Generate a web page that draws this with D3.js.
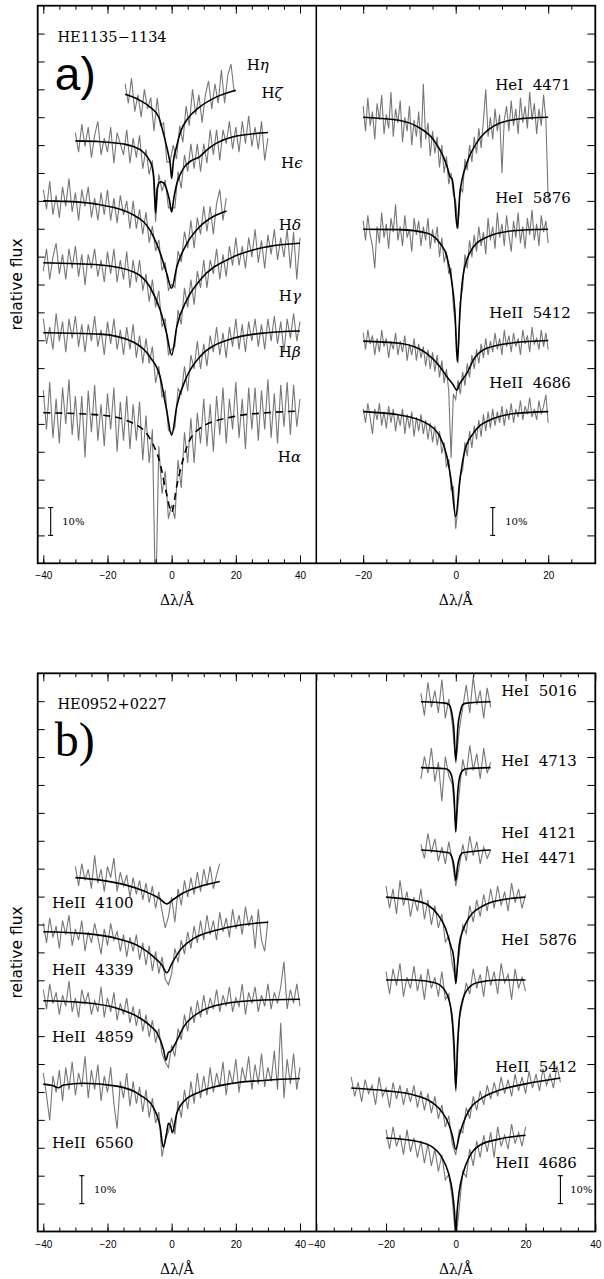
<!DOCTYPE html>
<html>
<head>
<meta charset="utf-8">
<script src="https://cdn.jsdelivr.net/npm/d3@7"></script>
<title>HE1135-1134 / HE0952+0227 line fits</title>
<style>
html, body {
	margin: 0;
	padding: 0;
	background: #fff;
}
svg {
	display: block;
}
.obs {
	fill: none;
	stroke: #777;
	stroke-width: 1.1;
}
.fit {
	fill: none;
	stroke: #000;
	stroke-width: 1.6;
}
.lbl {
	font-family: 'DejaVu Serif', serif;
	font-size: 15px;
}
</style>
</head>
<body>
<svg id="chart" width="604" height="1279"></svg>
<script>
// observed spectra: relative flux in %, one value per step (Angstrom) from x0
// panel a, left (Balmer lines, HE1135-1134), step 1
var aHetaObs = [103,96,105,93,99,91,101,94,98,86,98,88,89,75,75,81,76,88,82,95,88,101,92,99,89,99,104,94,103,96,108,96,106,110,100];
var aHzetaObs = [103,96,106,98,105,94,102,107,95,101,96,105,92,103,99,95,104,92,101,94,102,90,97,88,93,71,88,82,86,76,76,76,89,83,95,89,99,90,99,89,99,92,104,95,104,93,104,99,107,97,105,96,107,99,109,98,105,97,107,93,101];
var aHepsObs = [104,97,107,95,102,94,105,98,108,96,103,93,104,98,105,94,101,93,103,95,104,93,101,92,102,95,100,90,100,90,97,88,96,85,91,82,86,75,78,68,70,69,82,78,89,83,93,83,94,88,98,89,98,88,99,104,93,101];
var aHdeltaObs = [97,105,94,102,107,96,103,94,105,98,106,95,103,92,103,98,105,95,101,93,104,96,105,93,101,94,104,91,101,93,101,90,96,86,94,84,90,77,80,67,69,70,83,78,91,84,94,85,97,91,101,91,101,96,105,94,103,95,106,99,109,99,106,98,109,102,112,100,108,98,110,103,112,101,109,102,112,98,111,94,109];
var aHgammaObs = [105,96,102,94,107,97,104,93,105,98,106,95,103,93,103,97,106,95,101,92,104,96,105,94,101,92,102,94,103,91,99,89,98,89,95,82,88,77,79,65,64,66,80,78,88,79,92,87,97,87,96,88,99,93,102,92,100,91,102,95,105,94,103,93,104,97,105,95,103,94,105,97,106,96,104,93,105,98,107,97,104];
var aHalphaObs = [108,94,111,91,105,89,109,96,112,92,106,90,106,84,108,93,110,90,103,88,107,94,109,86,104,90,106,87,103,90,104,83,99,82,94,30,88,71,79,62,67,62,83,73,93,82,98,82,100,89,105,88,103,86,106,92,109,89,105,94,111,91,105,87,109,94,109,90,108,94,112,91,107,89,110,95,111,92,110,95,105];
// panel a, right (He lines), step 0.5
var aHeI4471Obs = [104,95,107,97,102,92,105,99,108,94,101,96,109,93,103,98,106,91,100,95,104,90,99,93,102,89,112,92,98,86,95,87,93,82,90,80,86,76,80,72,70,60,75,73,85,81,90,84,93,87,96,89,99,110,93,100,92,103,95,101,80,99,104,95,106,97,103,94,107,98,104,96,109,99,105,94,103,97,108,99,70];
var aHeI5876Obs = [103,96,105,98,94,86,101,95,106,97,102,93,104,99,109,96,101,94,105,97,100,92,104,98,103,94,101,96,104,93,100,95,101,90,97,88,92,84,86,72,65,52,74,79,91,86,96,90,98,92,101,94,99,91,104,96,101,93,106,97,102,94,105,98,92,103,97,106,95,101,93,104,98,107,96,102,94,105,99,103,95];
var aHeII5412Obs = [103,97,104,99,102,95,101,96,104,98,101,94,100,97,103,95,100,96,102,93,99,95,101,93,99,94,98,91,97,90,96,89,95,87,93,85,90,82,58,81,79,86,81,89,84,92,87,95,90,97,92,99,94,101,95,100,96,103,97,101,95,104,98,102,96,103,98,101,95,104,99,102,96,105,99,101,97,104,98,103,97];
var aHeII4686Obs = [101,96,103,98,92,101,97,103,95,100,94,102,96,101,93,99,95,101,92,99,94,100,91,98,93,99,92,97,90,96,89,95,88,93,85,89,80,83,72,73,58,66,77,79,89,84,93,87,95,90,97,91,99,93,100,94,101,95,100,96,102,95,101,97,103,96,101,98,104,97,102,99,105,98,101,97,104,99,102,106,96];
// panel b, left (HeII, HE0952+0227), step 1
var bHeII4100Obs = [104,97,105,99,103,96,108,98,103,95,104,100,107,95,102,97,101,93,100,94,99,92,98,91,97,89,95,88,82,86,93,84,96,90,99,93,100,94,102,95,103,97,104,96,101,105];
var bHeII4339Obs = [103,96,105,98,102,94,104,99,106,95,101,97,104,93,100,96,103,98,92,101,95,103,97,100,93,99,91,98,93,99,90,96,88,95,86,93,85,91,83,81,85,94,89,97,92,100,94,102,96,104,97,106,99,104,97,107,100,105,98,108,101,106,99,109,102,106,94,108,97,93,104];
var bHeII4859Obs = [104,97,106,99,103,95,102,98,107,96,101,94,104,99,103,95,100,96,105,94,101,96,103,93,99,95,101,92,98,91,97,89,95,87,93,85,90,81,78,76,84,80,90,86,95,89,98,92,100,94,102,95,101,97,104,96,102,98,105,96,101,98,106,95,103,99,105,96,102,98,106,97,103,99,105,114,97,104,99,106,98];
var bHeII6560Obs = [104,96,87,103,97,105,94,106,98,108,96,104,99,110,95,105,98,107,94,103,97,106,93,84,101,95,104,92,101,93,99,90,98,88,95,86,90,74,80,83,88,82,94,88,98,91,101,93,104,95,103,96,106,97,104,99,108,96,105,100,109,97,106,101,110,98,107,100,111,99,106,101,112,98,122,95,109,100,111,98,106];
// panel b, right (He lines), step 1
var bHeI5016Obs = [103,95,107,98,104,96,108,94,101,92,78,90,98,106,96,109,99,104,94,105,98];
var bHeI4713Obs = [96,104,98,107,95,102,88,104,97,94,80,91,103,97,108,99,105,96,107,98,102];
var bHeI4121Obs = [102,97,106,99,104,96,101,95,103,96,87,94,102,96,105,98,103,95,101,97,100];
var bHeI4471Obs = [104,96,103,94,106,97,102,93,100,95,103,92,99,90,97,89,94,84,86,76,70,80,90,87,97,91,99,93,101,95,103,96,104,97,102,95,105,98,103,96,101];
var bHeI5876Obs = [103,95,104,98,106,94,101,97,105,96,102,93,104,97,101,94,103,93,95,84,60,86,92,99,95,104,97,102,94,105,98,103,95,106,99,102,93,104,97,101,96];
var bHeII5412Obs = [104,97,102,95,103,98,101,94,104,97,100,93,102,96,101,94,100,95,101,93,99,92,98,91,97,89,94,86,90,80,76,85,84,93,89,97,92,99,94,101,96,102,97,104,98,103,97,105,99,104,98,106,100,105,99,107,101,105,100,108,102];
var bHeII4686Obs = [103,96,104,97,101,94,103,95,100,93,99,91,98,90,96,88,94,85,87,78,63,75,88,86,96,90,99,93,101,95,102,93,104,97,101,96,105,98,102,97,104];

// model fits: [delta lambda, relative flux]
var aHetaFit = [[-14.5,.992],[-10,.971],[-6.8,.947],[-4,.91],[-2.6,.853],[-1.1,.781],[-0.4,.738],[0,.69],[0.5,.749],[1.5,.803],[3,.864],[4.7,.90],[8.8,.947],[14,.983],[20,1.007]];
var aHzetaFit = [[-30,1],[-22,.997],[-15,.989],[-12,.98],[-9,.961],[-7,.932],[-6,.903],[-5.5,.86],[-5,.742],[-4.5,.83],[-3.5,.853],[-2.5,.849],[-1.5,.824],[-0.7,.788],[0,.745],[0.7,.796],[1.5,.842],[2.6,.878],[4,.907],[6,.928],[8.8,.944],[11,.968],[14,.992],[19.2,1.015],[30,1.03]];
var aHepsFit = [[-40,1],[-32.8,.998],[-22.3,.986],[-12,.95],[-6.8,.896],[-3.6,.814],[-1.6,.742],[0,.687],[1.6,.763],[4.7,.846],[8.8,.908],[13,.944],[17.1,.964]];
var aHdeltaFit = [[-40,1],[-22.3,.992],[-12,.968],[-6.8,.914],[-3.6,.831],[-1.6,.748],[0,.669],[1.6,.771],[4.7,.866],[8.8,.937],[19.2,1.021],[29.6,1.057],[40,1.07]];
var aHgammaFit = [[-40,1],[-22.3,.995],[-12,.967],[-6.8,.914],[-3.6,.842],[-1.6,.725],[0,.633],[1.6,.737],[4.7,.842],[8.8,.914],[19.2,.98],[29.6,1],[40,1.006]];
var aHalphaFit = [[-40,1],[-22.3,.992],[-12,.962],[-6.8,.908],[-3.6,.818],[-1.6,.71],[0,.644],[1.6,.738],[4.7,.876],[8.8,.944],[19.2,.986],[29.6,1],[40,1.006]];
var aHeI4471Fit = [[-20,1],[-12,.988],[-8.4,.967],[-4.8,.919],[-2.7,.859],[-1.8,.82],[-1.2,.785],[-0.8,.78],[-0.3,.72],[0.35,.602],[0.9,.727],[2.4,.835],[4.5,.907],[8.1,.967],[13.2,.993],[20,1]];
var aHeI5876Fit = [[-20,1],[-12,.999],[-6.3,.987],[-3.4,.95],[-1.9,.902],[-0.9,.818],[-0.15,.70],[0.35,.525],[0.9,.70],[1.6,.835],[3.1,.917],[6,.966],[12.5,.995],[20,1]];
var aHeII5412Fit = [[-20,1],[-12.1,.992],[-6.3,.956],[-3.4,.908],[-1.9,.872],[-0.5,.842],[0.2,.824],[0.9,.848],[2.4,.884],[3.8,.932],[6.7,.974],[12.5,.994],[20,1.002]];
var aHeII4686Fit = [[-20,1],[-12.1,.988],[-6.3,.958],[-3.4,.91],[-1.9,.839],[-0.9,.743],[0,.623],[0.9,.755],[2,.862],[3.8,.922],[7.4,.97],[13.2,.994],[20,1]];
var bHeII4100Fit = [[-30,1],[-22.7,.992],[-14.4,.974],[-8.2,.95],[-4,.927],[-1.4,.906],[0.2,.919],[3.3,.943],[8.5,.967],[15,.986]];
var bHeII4339Fit = [[-40,1],[-27.5,.994],[-17.1,.976],[-9.8,.946],[-5.6,.91],[-3,.88],[-1.5,.853],[0.1,.887],[2.7,.935],[6.9,.976],[14.2,1.006],[21.5,1.024],[30,1.034]];
var bHeII4859Fit = [[-40,1],[-27.5,.993],[-17.1,.973],[-9.8,.937],[-6.2,.905],[-4.6,.885],[-2.5,.823],[-1.8,.787],[-1,.815],[-0.3,.818],[0.4,.83],[1.7,.859],[3.8,.907],[8.9,.96],[14.2,.984],[24.5,1],[40,1.005]];
var bHeII6560Fit = [[-40,1],[-36.9,.994],[-35.3,.987],[-33.7,.997],[-27.5,1.003],[-17.1,.993],[-9.8,.961],[-5.6,.914],[-3.6,.848],[-2.6,.774],[-1.5,.83],[-1,.86],[-0.3,.85],[0.2,.826],[1.6,.896],[3.7,.937],[8.9,.973],[19.2,1.003],[29.6,1.014],[40,1.02]];
var bHeI5016Fit = [[-10,1],[-3,.995],[-2,.99],[-1.2,.964],[-0.6,.91],[0,.79],[0.6,.91],[1.3,.964],[2,.99],[3,.995],[10,1]];
var bHeI4713Fit = [[-10,1],[-3,.996],[-2,.99],[-1,.96],[-0.5,.9],[0,.77],[0.5,.9],[1,.96],[2,.99],[3,.996],[10,1]];
var bHeI4121Fit = [[-10,1],[-2,.99],[-1,.97],[-0.5,.94],[0,.89],[0.5,.94],[1,.97],[2,.99],[10,1]];
var bHeI4471Fit = [[-20,1],[-12,.988],[-8,.972],[-5,.935],[-3,.89],[-2,.85],[-1.3,.82],[-0.8,.80],[-0.4,.76],[0,.69],[0.5,.76],[1,.83],[2,.88],[4,.93],[8,.97],[13,.99],[20,1]];
var bHeI5876Fit = [[-20,1],[-12,1],[-6,.99],[-3,.96],[-2,.93],[-1,.86],[-0.5,.77],[0,.61],[0.5,.77],[1,.86],[2,.93],[3,.96],[6,.99],[12,1],[20,1]];
var bHeII5412Fit = [[-30,1],[-20,.99],[-12,.975],[-7,.95],[-4,.915],[-2,.87],[-1,.83],[0,.78],[1,.83],[2,.87],[4,.925],[7,.96],[12,.99],[20,1.015],[30,1.036]];
var bHeII4686Fit = [[-20,1],[-12,.99],[-7,.97],[-4,.93],[-2,.87],[-1,.81],[-0.4,.74],[0,.665],[0.4,.74],[1,.81],[2,.87],[4,.935],[7,.975],[12,.995],[20,1.01]];

// continuum level of each spectrum (flux units above the panel floor)
var aLeftOffsets = [1.690, 1.515, 1.300, 1.078, 0.827, 0.540];
var aRightOffsets = [1.600, 1.198, 0.797, 0.544];
var bLeftOffsets = [1.268, 1.074, 0.827, 0.528];
var bRightOffsets = [1.898, 1.662, 1.367, 1.198, 0.901, 0.514, 0.335];

// labels
var aLeftLabels = ["η", "ζ", "ϵ", "δ", "γ", "β", "α"];
var aRightLabels = ["HeI 4471", "HeI 5876", "HeII 5412", "HeII 4686"];
var bLeftLabels = ["HeII 4100", "HeII 4339", "HeII 4859", "HeII 6560"];
var bRightLabels = ["HeI 5016", "HeI 4713", "HeI 4121", "HeI 4471", "HeI 5876", "HeII 5412", "HeII 4686"];

var svg = d3.select("#chart");

var X0 = 37.7, XD = 316.3, X1 = 595.3;
var xLeft = d3.scaleLinear([-40, 40], [43.3, 300]);
var xRightA = d3.scaleLinear([-20, 20], [363.2, 548.2]);
var xRightB = d3.scaleLinear([-40, 40], [316.3, 595.3]);

var panels = [
	{name: "a", top: 5.7, bottom: 563.3, star: "HE1135\u22121134", tag: "a)", tagFont: "'Liberation Sans', Arial, sans-serif", tagSize: 46,
		right: xRightA, rMajor: [-20, 0, 20], rMinor: d3.range(-25, 26, 5)},
	{name: "b", top: 673.3, bottom: 1231.5, star: "HE0952+0227", tag: "b)", tagFont: "'Liberation Serif', 'Times New Roman', serif", tagSize: 48,
		right: xRightB, rMajor: [-40, -20, 0, 20, 40], rMinor: d3.range(-35, 36, 5)}
];

var specs = [
	{p: 0, side: "L", obs: aHetaObs, x0: -14.5, step: 1, fit: aHetaFit, off: aLeftOffsets[0]},
	{p: 0, side: "L", obs: aHzetaObs, x0: -30, step: 1, fit: aHzetaFit, off: aLeftOffsets[1]},
	{p: 0, side: "L", obs: aHepsObs, x0: -40, step: 1, fit: aHepsFit, off: aLeftOffsets[2]},
	{p: 0, side: "L", obs: aHdeltaObs, x0: -40, step: 1, fit: aHdeltaFit, off: aLeftOffsets[3]},
	{p: 0, side: "L", obs: aHgammaObs, x0: -40, step: 1, fit: aHgammaFit, off: aLeftOffsets[4]},
	{p: 0, side: "L", obs: aHalphaObs, x0: -40, step: 1, fit: aHalphaFit, off: aLeftOffsets[5], dashed: true},
	{p: 0, side: "R", obs: aHeI4471Obs, x0: -20, step: 0.5, fit: aHeI4471Fit, off: aRightOffsets[0]},
	{p: 0, side: "R", obs: aHeI5876Obs, x0: -20, step: 0.5, fit: aHeI5876Fit, off: aRightOffsets[1]},
	{p: 0, side: "R", obs: aHeII5412Obs, x0: -20, step: 0.5, fit: aHeII5412Fit, off: aRightOffsets[2]},
	{p: 0, side: "R", obs: aHeII4686Obs, x0: -20, step: 0.5, fit: aHeII4686Fit, off: aRightOffsets[3]},
	{p: 1, side: "L", obs: bHeII4100Obs, x0: -30, step: 1, fit: bHeII4100Fit, off: bLeftOffsets[0]},
	{p: 1, side: "L", obs: bHeII4339Obs, x0: -40, step: 1, fit: bHeII4339Fit, off: bLeftOffsets[1]},
	{p: 1, side: "L", obs: bHeII4859Obs, x0: -40, step: 1, fit: bHeII4859Fit, off: bLeftOffsets[2]},
	{p: 1, side: "L", obs: bHeII6560Obs, x0: -40, step: 1, fit: bHeII6560Fit, off: bLeftOffsets[3]},
	{p: 1, side: "R", obs: bHeI5016Obs, x0: -10, step: 1, fit: bHeI5016Fit, off: bRightOffsets[0]},
	{p: 1, side: "R", obs: bHeI4713Obs, x0: -10, step: 1, fit: bHeI4713Fit, off: bRightOffsets[1]},
	{p: 1, side: "R", obs: bHeI4121Obs, x0: -10, step: 1, fit: bHeI4121Fit, off: bRightOffsets[2]},
	{p: 1, side: "R", obs: bHeI4471Obs, x0: -20, step: 1, fit: bHeI4471Fit, off: bRightOffsets[3]},
	{p: 1, side: "R", obs: bHeI5876Obs, x0: -20, step: 1, fit: bHeI5876Fit, off: bRightOffsets[4]},
	{p: 1, side: "R", obs: bHeII5412Obs, x0: -30, step: 1, fit: bHeII5412Fit, off: bRightOffsets[5]},
	{p: 1, side: "R", obs: bHeII4686Obs, x0: -20, step: 1, fit: bHeII4686Fit, off: bRightOffsets[6]}
];

// label anchors in data units (delta lambda, flux)
var labelPos = [
	{p: 0, side: "L", texts: aLeftLabels, anchor: "start", greek: true,
		at: [[23.4, 1.787], [28.0, 1.686], [34.1, 1.435], [33.4, 1.213], [33.4, 0.959], [33.4, 0.758], [33.1, 0.381]]},
	{p: 0, side: "R", texts: aRightLabels, anchor: "end",
		at: [[24.9, 1.716], [24.9, 1.310], [24.9, 0.898], [24.9, 0.647]]},
	{p: 1, side: "L", texts: bLeftLabels, anchor: "start",
		at: [[-37.3, 1.176], [-37.3, 0.937], [-37.3, 0.698], [-37.3, 0.316]]},
	{p: 1, side: "R", texts: bRightLabels, anchor: "end",
		at: [[34.7, 1.938], [34.7, 1.687], [34.7, 1.427], [34.7, 1.338], [34.7, 1.044], [34.7, 0.589], [34.7, 0.244]]}
];

// 10% scale bars: [x of bar, x of text]
var bars = [
	{p: 0, side: "L", x: -37.7, tx: -34.1},
	{p: 0, side: "R", x: 8.0, tx: 10.7},
	{p: 1, side: "L", x: -28.0, tx: -24.2},
	{p: 1, side: "R", x: 30.0, tx: 32.8}
];

var yTicks = d3.range(1, 20).map(function(k) { return k / 10; });
var serif = "'DejaVu Serif', serif";

panels.forEach(function(P, pi) {
	P.y = d3.scaleLinear([0, 2], [P.bottom, P.top]);
	P.xs = {L: xLeft, R: P.right};
	var clips = {L: [X0, XD], R: [XD, X1]};
	var g = svg.append("g");

	["L", "R"].forEach(function(side) {
		g.append("clipPath").attr("id", "clip" + P.name + side)
			.append("rect")
			.attr("x", clips[side][0]).attr("y", P.top)
			.attr("width", clips[side][1] - clips[side][0])
			.attr("height", P.bottom - P.top);
	});

	// spectra
	specs.filter(function(s) { return s.p === pi; }).forEach(function(s) {
		var x = P.xs[s.side];
		var pts = s.obs.map(function(v, i) { return [s.x0 + i * s.step, s.off + v / 100 - 1]; });
		var obsLine = d3.line()
			.x(function(d) { return x(d[0]); })
			.y(function(d) { return P.y(d[1]); });
		g.append("path")
			.attr("class", "obs")
			.attr("clip-path", "url(#clip" + P.name + s.side + ")")
			.attr("d", obsLine(pts));
	});
	specs.filter(function(s) { return s.p === pi; }).forEach(function(s) {
		var x = P.xs[s.side];
		var fitLine = d3.line()
			.curve(d3.curveMonotoneX)
			.x(function(d) { return x(d[0]); })
			.y(function(d) { return P.y(s.off + d[1] - 1); });
		g.append("path")
			.attr("class", "fit")
			.attr("clip-path", "url(#clip" + P.name + s.side + ")")
			.attr("stroke-dasharray", s.dashed ? "7,5" : null)
			.attr("d", fitLine(s.fit));
	});

	// axes
	function xAxes(x, major, minor) {
		g.append("g").attr("transform", "translate(0," + P.bottom + ")")
			.call(d3.axisBottom(x).tickValues(minor).tickSizeInner(-4).tickSizeOuter(0).tickFormat(""))
			.call(function(a) { a.select(".domain").remove(); });
		g.append("g").attr("transform", "translate(0," + P.bottom + ")")
			.attr("font-family", serif).attr("font-size", 13)
			.call(d3.axisBottom(x).tickValues(major).tickSizeInner(-8).tickSizeOuter(0).tickPadding(9))
			.call(function(a) { a.select(".domain").remove(); });
		g.append("g").attr("transform", "translate(0," + P.top + ")")
			.call(d3.axisTop(x).tickValues(minor).tickSizeInner(-4).tickSizeOuter(0).tickFormat(""))
			.call(function(a) { a.select(".domain").remove(); });
		g.append("g").attr("transform", "translate(0," + P.top + ")")
			.call(d3.axisTop(x).tickValues(major).tickSizeInner(-8).tickSizeOuter(0).tickFormat(""))
			.call(function(a) { a.select(".domain").remove(); });
	}
	xAxes(xLeft, [-40, -20, 0, 20, 40], d3.range(-40, 41, 5));
	xAxes(P.right, P.rMajor, P.rMinor);

	g.append("g").attr("transform", "translate(" + X0 + ",0)")
		.call(d3.axisLeft(P.y).tickValues(yTicks).tickSizeInner(-7).tickSizeOuter(0).tickFormat(""))
		.call(function(a) { a.select(".domain").remove(); });
	g.append("g").attr("transform", "translate(" + X1 + ",0)")
		.call(d3.axisRight(P.y).tickValues(yTicks).tickSizeInner(-8).tickSizeOuter(0).tickFormat(""))
		.call(function(a) { a.select(".domain").remove(); });

	// frame
	g.append("rect")
		.attr("x", X0).attr("y", P.top)
		.attr("width", X1 - X0).attr("height", P.bottom - P.top)
		.attr("fill", "none").attr("stroke", "#000").attr("stroke-width", 1.8);
	g.append("line")
		.attr("x1", XD).attr("x2", XD).attr("y1", P.top).attr("y2", P.bottom)
		.attr("stroke", "#000").attr("stroke-width", 1.5);

	// axis titles
	g.append("text")
		.attr("x", xLeft(1.6)).attr("y", P.bottom + 37)
		.attr("text-anchor", "middle").attr("dominant-baseline", "central")
		.attr("font-family", serif).attr("font-size", 14)
		.text("\u0394\u03bb/\u00c5");
	g.append("text")
		.attr("x", P.right(0)).attr("y", P.bottom + 37)
		.attr("text-anchor", "middle").attr("dominant-baseline", "central")
		.attr("font-family", serif).attr("font-size", 14)
		.text("\u0394\u03bb/\u00c5");
	g.append("text")
		.attr("transform", "translate(17," + P.y(1.0) + ") rotate(-90)")
		.attr("text-anchor", "middle").attr("dominant-baseline", "central")
		.attr("font-family", "'DejaVu Sans', sans-serif").attr("font-size", 15.5)
		.text("relative flux");

	// star name and panel tag
	g.append("text")
		.attr("x", xLeft(-35.6)).attr("y", P.y(1.889))
		.attr("dominant-baseline", "central")
		.attr("font-family", serif).attr("font-size", 14.5)
		.text(P.star);
	g.append("text")
		.attr("x", xLeft(-36.4)).attr("y", P.y(P.name === "a" ? 1.697 : 1.702))
		.attr("font-family", P.tagFont).attr("font-size", P.tagSize)
		.text(P.tag);
});

// line labels
labelPos.forEach(function(L) {
	var P = panels[L.p];
	var x = P.xs[L.side];
	L.texts.forEach(function(t, i) {
		var txt = svg.append("text")
			.attr("class", "lbl")
			.attr("x", x(L.at[i][0])).attr("y", P.y(L.at[i][1]))
			.attr("text-anchor", L.anchor)
			.attr("dominant-baseline", "central");
		if (L.greek) {
			txt.attr("font-size", 14);
			txt.append("tspan").text("H");
			txt.append("tspan").attr("font-style", "italic").text(t);
		} else {
			txt.attr("xml:space", "preserve").text(t.replace(" ", "\u00a0 "));
		}
	});
});

// 10% bars
bars.forEach(function(B) {
	var P = panels[B.p];
	var x = P.xs[B.side];
	var bx = x(B.x);
	var g = svg.append("g").attr("stroke", "#000").attr("stroke-width", 1.1);
	g.append("line").attr("x1", bx).attr("x2", bx).attr("y1", P.y(0.1)).attr("y2", P.y(0.2));
	g.append("line").attr("x1", bx - 2.5).attr("x2", bx + 2.5).attr("y1", P.y(0.1)).attr("y2", P.y(0.1));
	g.append("line").attr("x1", bx - 2.5).attr("x2", bx + 2.5).attr("y1", P.y(0.2)).attr("y2", P.y(0.2));
	svg.append("text")
		.attr("x", x(B.tx)).attr("y", P.y(0.15))
		.attr("dominant-baseline", "central")
		.attr("font-family", serif).attr("font-size", 10)
		.text("10%");
});
</script>
</body>
</html>
